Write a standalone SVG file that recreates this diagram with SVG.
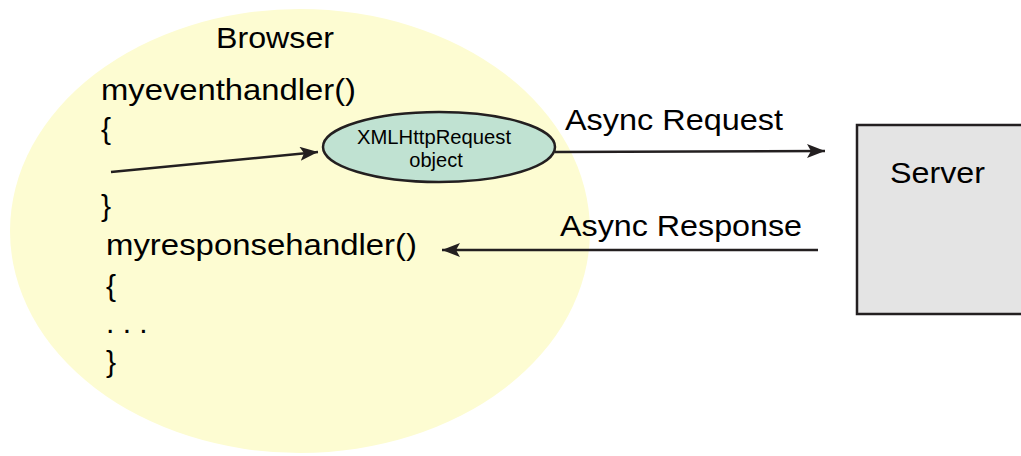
<svg xmlns="http://www.w3.org/2000/svg" width="1021" height="456" viewBox="0 0 1021 456">
<style>
text{font-family:"Liberation Sans",Arial,sans-serif;fill:#000}
.big{font-size:30px}
.small{font-size:20px}
.conn{stroke:#231f20;stroke-width:2.5;fill:none}
</style>
<defs>
<marker id="ah" markerUnits="userSpaceOnUse" markerWidth="20" markerHeight="16" refX="18" refY="7" orient="auto">
<path d="M0,0 L18,7 L0,14 L4,7 z" fill="#231f20"/>
</marker>
</defs>
<rect width="1021" height="456" fill="#fff"/>
<g id="browser">
<ellipse cx="300" cy="231" rx="290" ry="222" fill="#fdfcd2"/>
<text class="big" x="216" y="48" textLength="118" lengthAdjust="spacingAndGlyphs">Browser</text>
<text class="big" x="101" y="100" textLength="255" lengthAdjust="spacingAndGlyphs">myeventhandler()</text>
<text class="big" x="101" y="139">{</text>
<text class="big" x="101" y="216">}</text>
<text class="big" x="106" y="255" textLength="311" lengthAdjust="spacingAndGlyphs">myresponsehandler()</text>
<text class="big" x="106" y="296">{</text>
<text class="big" x="106" y="333">. . .</text>
<text class="big" x="106" y="372">}</text>
</g>
<g id="xhr">
<ellipse cx="439" cy="147" rx="116" ry="35" fill="#c0e2d2" stroke="#231f20" stroke-width="2.5"/>
<text class="small" x="434" y="144" text-anchor="middle" textLength="154" lengthAdjust="spacingAndGlyphs">XMLHttpRequest</text>
<text class="small" x="436" y="167" text-anchor="middle">object</text>
</g>
<g id="server">
<rect x="857" y="125" width="180" height="189" fill="#e4e4e4" stroke="#231f20" stroke-width="2.5"/>
<text class="big" x="890" y="183" textLength="95" lengthAdjust="spacingAndGlyphs">Server</text>
</g>
<g id="connectors">
<line class="conn" x1="111" y1="172" x2="318" y2="152" marker-end="url(#ah)"/>
<line class="conn" x1="555" y1="152" x2="825" y2="151" marker-end="url(#ah)"/>
<line class="conn" x1="818" y1="250" x2="442" y2="250" marker-end="url(#ah)"/>
<text class="big" x="565" y="130" textLength="218" lengthAdjust="spacingAndGlyphs">Async Request</text>
<text class="big" x="560" y="236" textLength="242" lengthAdjust="spacingAndGlyphs">Async Response</text>
</g>
</svg>
